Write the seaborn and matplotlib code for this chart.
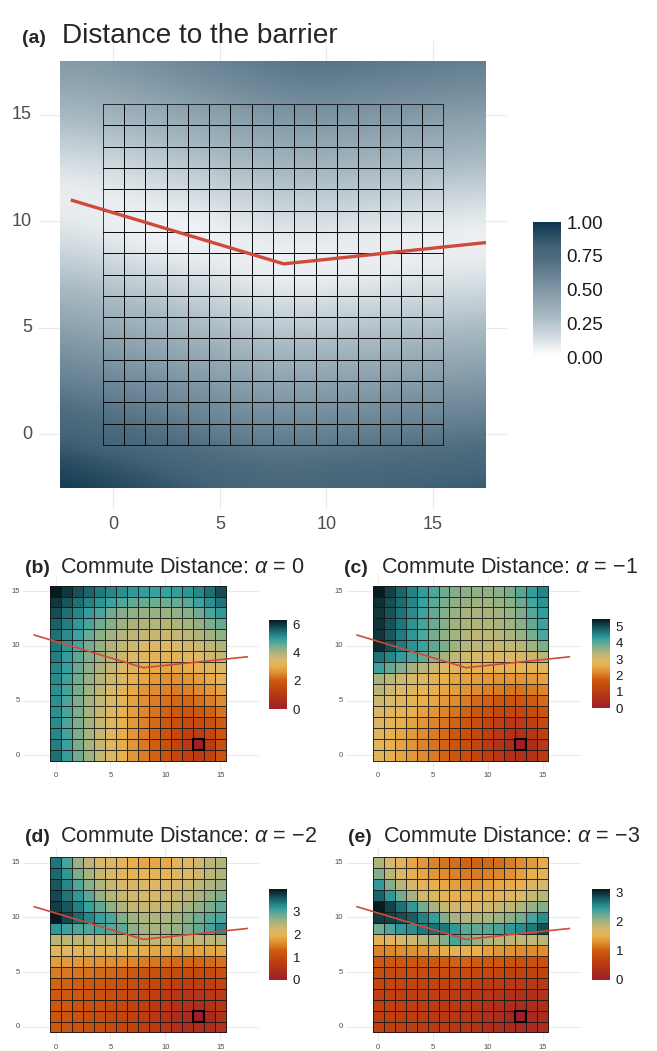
import numpy as np
import pandas as pd
import matplotlib
matplotlib.use("Agg")
import matplotlib.pyplot as plt
import matplotlib.transforms as mtransforms
from matplotlib.colors import LinearSegmentedColormap, ListedColormap
from matplotlib.patches import Rectangle
import seaborn as sns

# ---------------------------------------------------------------
# Data
# ---------------------------------------------------------------
cells = list(range(16))              # cell centres 0..15 on both axes
barrier_x = [-2, 8, 17.5]
barrier_y = [11, 8, 9]
target_cell = (13, 1)

# panel (a): distance to the barrier, sampled every 2 units, rows from y=-2.5 up
field_coords = [-2.5, -0.5, 1.5, 3.5, 5.5, 7.5, 9.5, 11.5, 13.5, 15.5, 17.5]
barrier_dist = [
    [1.000, 0.956, 0.913, 0.868, 0.826, 0.804, 0.811, 0.827, 0.842, 0.859, 0.875],
    [0.854, 0.809, 0.766, 0.722, 0.678, 0.651, 0.659, 0.675, 0.691, 0.707, 0.723],
    [0.707, 0.663, 0.619, 0.575, 0.531, 0.499, 0.507, 0.523, 0.539, 0.555, 0.571],
    [0.561, 0.516, 0.473, 0.428, 0.385, 0.347, 0.354, 0.370, 0.386, 0.402, 0.419],
    [0.414, 0.370, 0.326, 0.282, 0.238, 0.195, 0.202, 0.218, 0.234, 0.250, 0.266],
    [0.268, 0.223, 0.180, 0.135, 0.092, 0.047, 0.050, 0.066, 0.082, 0.098, 0.114],
    [0.121, 0.077, 0.033, 0.011, 0.055, 0.099, 0.103, 0.086, 0.070, 0.054, 0.038],
    [0.054, 0.070, 0.113, 0.158, 0.201, 0.246, 0.254, 0.239, 0.223, 0.207, 0.191],
    [0.195, 0.217, 0.260, 0.305, 0.348, 0.392, 0.406, 0.390, 0.375, 0.359, 0.343],
    [0.347, 0.363, 0.407, 0.451, 0.495, 0.539, 0.559, 0.542, 0.526, 0.511, 0.495],
    [0.499, 0.510, 0.553, 0.598, 0.641, 0.686, 0.711, 0.695, 0.679, 0.663, 0.647],
]

# panels (b)-(e): commute distance to the target cell, rows from y=15 (top) to y=0
commute_alpha0 = [
    [6.30, 6.00, 5.75, 5.55, 5.35, 5.20, 5.10, 5.00, 4.95, 4.90, 4.90, 4.95, 5.05, 5.20, 5.45, 5.80],
    [6.00, 5.70, 5.45, 5.25, 5.05, 4.85, 4.70, 4.60, 4.55, 4.50, 4.50, 4.55, 4.65, 4.85, 5.10, 5.40],
    [5.80, 5.45, 5.20, 4.95, 4.75, 4.50, 4.35, 4.25, 4.20, 4.15, 4.15, 4.20, 4.30, 4.50, 4.75, 5.00],
    [5.60, 5.30, 5.00, 4.75, 4.50, 4.30, 4.10, 4.00, 3.95, 3.90, 3.90, 3.95, 4.05, 4.20, 4.40, 4.60],
    [5.45, 5.15, 4.85, 4.55, 4.30, 4.10, 3.90, 3.80, 3.70, 3.65, 3.65, 3.70, 3.80, 3.95, 4.10, 4.25],
    [5.35, 5.05, 4.75, 4.45, 4.20, 3.95, 3.75, 3.60, 3.50, 3.45, 3.40, 3.45, 3.55, 3.65, 3.80, 3.95],
    [5.30, 4.95, 4.65, 4.35, 4.10, 3.85, 3.60, 3.45, 3.30, 3.20, 3.15, 3.20, 3.30, 3.40, 3.55, 3.70],
    [5.20, 4.90, 4.55, 4.25, 4.00, 3.70, 3.45, 3.25, 3.05, 2.95, 2.90, 2.90, 3.00, 3.10, 3.25, 3.40],
    [5.15, 4.85, 4.50, 4.20, 3.90, 3.60, 3.35, 3.10, 2.90, 2.75, 2.65, 2.65, 2.70, 2.80, 2.95, 3.15],
    [5.10, 4.80, 4.45, 4.10, 3.80, 3.50, 3.25, 2.95, 2.70, 2.55, 2.45, 2.40, 2.45, 2.55, 2.70, 2.85],
    [5.10, 4.75, 4.40, 4.05, 3.75, 3.45, 3.15, 2.85, 2.60, 2.40, 2.25, 2.15, 2.15, 2.25, 2.40, 2.55],
    [5.10, 4.75, 4.40, 4.05, 3.70, 3.40, 3.10, 2.80, 2.50, 2.30, 2.10, 1.95, 1.90, 1.95, 2.10, 2.30],
    [5.15, 4.75, 4.40, 4.05, 3.70, 3.35, 3.05, 2.75, 2.45, 2.20, 1.95, 1.75, 1.60, 1.60, 1.80, 2.05],
    [5.20, 4.80, 4.40, 4.05, 3.70, 3.35, 3.00, 2.70, 2.40, 2.10, 1.85, 1.55, 1.30, 1.25, 1.50, 1.85],
    [5.30, 4.85, 4.45, 4.05, 3.70, 3.35, 3.00, 2.70, 2.35, 2.05, 1.75, 1.40, 1.05, 0.00, 1.10, 1.70],
    [5.45, 4.95, 4.50, 4.10, 3.75, 3.40, 3.05, 2.70, 2.40, 2.10, 1.80, 1.50, 1.30, 1.20, 1.40, 1.80],
]

commute_alpha1 = [
    [5.45, 5.10, 4.80, 4.55, 4.30, 4.10, 3.90, 3.75, 3.70, 3.65, 3.65, 3.70, 3.85, 4.05, 4.30, 4.55],
    [5.25, 5.00, 4.75, 4.50, 4.25, 4.00, 3.80, 3.65, 3.60, 3.55, 3.55, 3.60, 3.70, 3.90, 4.15, 4.40],
    [5.20, 4.95, 4.70, 4.45, 4.20, 3.95, 3.75, 3.60, 3.50, 3.45, 3.45, 3.50, 3.60, 3.80, 4.05, 4.30],
    [5.20, 4.95, 4.65, 4.40, 4.15, 3.90, 3.70, 3.55, 3.45, 3.40, 3.40, 3.45, 3.55, 3.70, 3.95, 4.20],
    [5.20, 4.90, 4.60, 4.35, 4.10, 3.85, 3.65, 3.50, 3.40, 3.30, 3.30, 3.35, 3.45, 3.60, 3.85, 4.10],
    [5.30, 5.00, 4.60, 4.40, 4.20, 4.00, 3.80, 3.55, 3.40, 3.30, 3.25, 3.20, 3.25, 3.35, 3.55, 3.80],
    [4.70, 4.50, 4.30, 4.15, 3.95, 3.70, 3.50, 3.25, 3.10, 3.00, 2.95, 2.95, 3.00, 3.05, 3.15, 3.30],
    [4.20, 3.95, 3.75, 3.50, 3.35, 3.15, 3.00, 2.85, 2.75, 2.70, 2.65, 2.65, 2.65, 2.70, 2.75, 2.85],
    [3.50, 3.35, 3.15, 3.00, 2.85, 2.70, 2.60, 2.50, 2.45, 2.40, 2.35, 2.30, 2.30, 2.30, 2.35, 2.45],
    [3.35, 3.15, 3.00, 2.85, 2.70, 2.60, 2.50, 2.40, 2.30, 2.20, 2.10, 2.05, 2.00, 2.00, 2.05, 2.15],
    [3.15, 3.00, 2.85, 2.70, 2.60, 2.50, 2.35, 2.20, 2.05, 1.90, 1.80, 1.70, 1.65, 1.65, 1.75, 1.90],
    [3.00, 2.85, 2.70, 2.60, 2.45, 2.30, 2.15, 2.00, 1.85, 1.65, 1.50, 1.35, 1.30, 1.30, 1.40, 1.60],
    [2.90, 2.75, 2.60, 2.45, 2.30, 2.15, 2.00, 1.85, 1.65, 1.45, 1.25, 1.10, 0.95, 0.95, 1.10, 1.35],
    [2.85, 2.65, 2.50, 2.35, 2.20, 2.05, 1.90, 1.70, 1.50, 1.30, 1.10, 0.90, 0.70, 0.65, 0.80, 1.10],
    [2.80, 2.60, 2.45, 2.30, 2.15, 2.00, 1.85, 1.65, 1.45, 1.25, 1.00, 0.75, 0.50, 0.00, 0.55, 0.90],
    [2.85, 2.65, 2.50, 2.35, 2.20, 2.05, 1.85, 1.65, 1.45, 1.25, 1.05, 0.85, 0.70, 0.65, 0.75, 1.00],
]

commute_alpha2 = [
    [3.43, 3.04, 2.65, 2.42, 2.22, 2.10, 2.03, 1.91, 1.83, 1.83, 1.87, 2.03, 2.15, 2.26, 2.42, 2.50],
    [3.50, 3.20, 2.80, 2.55, 2.35, 2.20, 2.10, 2.03, 2.00, 2.00, 2.03, 2.10, 2.20, 2.25, 2.40, 2.50],
    [3.60, 3.30, 3.00, 2.73, 2.50, 2.35, 2.22, 2.18, 2.15, 2.15, 2.18, 2.22, 2.30, 2.42, 2.50, 2.60],
    [3.70, 3.43, 3.20, 2.95, 2.65, 2.45, 2.35, 2.25, 2.22, 2.22, 2.25, 2.35, 2.42, 2.55, 2.65, 2.78],
    [3.78, 3.60, 3.35, 3.12, 2.92, 2.70, 2.50, 2.38, 2.34, 2.34, 2.38, 2.45, 2.58, 2.70, 2.80, 2.92],
    [4.00, 3.70, 3.50, 3.30, 3.12, 3.00, 2.77, 2.60, 2.50, 2.50, 2.53, 2.60, 2.73, 2.85, 2.96, 3.04],
    [3.20, 3.08, 3.00, 3.00, 3.05, 2.98, 2.95, 2.70, 2.58, 2.55, 2.58, 2.65, 2.75, 2.90, 3.05, 3.30],
    [2.45, 2.42, 2.40, 2.38, 2.36, 2.36, 2.40, 2.45, 2.45, 2.40, 2.38, 2.36, 2.36, 2.38, 2.40, 2.45],
    [2.10, 2.10, 2.08, 2.05, 2.03, 2.00, 1.98, 1.92, 1.88, 1.85, 1.83, 1.80, 1.80, 1.80, 1.82, 1.85],
    [1.75, 1.74, 1.72, 1.70, 1.68, 1.65, 1.62, 1.58, 1.52, 1.48, 1.43, 1.40, 1.38, 1.38, 1.40, 1.45],
    [1.50, 1.48, 1.46, 1.44, 1.40, 1.36, 1.32, 1.27, 1.20, 1.14, 1.08, 1.03, 1.00, 1.00, 1.02, 1.08],
    [1.35, 1.33, 1.30, 1.27, 1.23, 1.18, 1.13, 1.07, 1.00, 0.93, 0.87, 0.82, 0.78, 0.78, 0.82, 0.88],
    [1.28, 1.26, 1.22, 1.18, 1.13, 1.08, 1.02, 0.95, 0.88, 0.80, 0.72, 0.65, 0.60, 0.60, 0.65, 0.72],
    [1.24, 1.22, 1.18, 1.13, 1.08, 1.02, 0.96, 0.88, 0.80, 0.72, 0.62, 0.52, 0.45, 0.43, 0.50, 0.60],
    [1.22, 1.20, 1.16, 1.11, 1.05, 0.99, 0.92, 0.85, 0.76, 0.66, 0.55, 0.43, 0.30, 0.00, 0.32, 0.50],
    [1.24, 1.21, 1.17, 1.12, 1.06, 1.00, 0.93, 0.86, 0.77, 0.68, 0.58, 0.48, 0.40, 0.38, 0.42, 0.52],
]

commute_alpha3 = [
    [1.95, 1.73, 1.58, 1.42, 1.32, 1.20, 1.13, 1.10, 1.04, 1.04, 1.07, 1.10, 1.17, 1.26, 1.35, 1.45],
    [2.14, 1.89, 1.73, 1.54, 1.42, 1.32, 1.26, 1.20, 1.17, 1.17, 1.20, 1.23, 1.29, 1.39, 1.48, 1.58],
    [2.46, 2.14, 1.89, 1.73, 1.58, 1.48, 1.42, 1.39, 1.35, 1.35, 1.39, 1.42, 1.45, 1.51, 1.64, 1.73],
    [2.74, 2.46, 2.20, 1.98, 1.76, 1.64, 1.58, 1.51, 1.51, 1.51, 1.54, 1.58, 1.64, 1.70, 1.80, 1.89],
    [3.10, 2.90, 2.68, 2.46, 2.20, 1.98, 1.83, 1.76, 1.73, 1.73, 1.76, 1.80, 1.86, 1.95, 2.05, 2.14],
    [2.93, 2.90, 2.84, 2.77, 2.58, 2.43, 2.14, 1.98, 1.95, 1.95, 1.95, 2.02, 2.11, 2.20, 2.36, 2.52],
    [2.20, 2.33, 2.46, 2.52, 2.65, 2.70, 2.65, 2.46, 2.27, 2.27, 2.30, 2.36, 2.46, 2.52, 2.65, 2.84],
    [1.51, 1.58, 1.70, 1.76, 1.89, 1.98, 2.14, 2.36, 2.20, 2.05, 1.95, 1.89, 1.86, 1.83, 1.83, 1.89],
    [1.20, 1.23, 1.26, 1.29, 1.32, 1.39, 1.45, 1.51, 1.51, 1.48, 1.39, 1.32, 1.29, 1.26, 1.26, 1.26],
    [0.95, 0.95, 0.95, 0.95, 0.98, 0.98, 1.00, 1.04, 1.04, 1.00, 0.98, 0.95, 0.91, 0.88, 0.88, 0.88],
    [0.80, 0.80, 0.80, 0.80, 0.80, 0.80, 0.80, 0.80, 0.79, 0.77, 0.75, 0.72, 0.70, 0.68, 0.68, 0.70],
    [0.72, 0.72, 0.72, 0.71, 0.70, 0.69, 0.68, 0.66, 0.64, 0.61, 0.58, 0.55, 0.52, 0.50, 0.50, 0.52],
    [0.66, 0.66, 0.65, 0.64, 0.63, 0.62, 0.60, 0.58, 0.55, 0.51, 0.47, 0.43, 0.39, 0.37, 0.38, 0.42],
    [0.63, 0.63, 0.62, 0.61, 0.60, 0.58, 0.56, 0.53, 0.50, 0.45, 0.40, 0.34, 0.28, 0.26, 0.29, 0.34],
    [0.62, 0.62, 0.61, 0.60, 0.58, 0.56, 0.54, 0.51, 0.47, 0.42, 0.35, 0.28, 0.20, 0.00, 0.21, 0.30],
    [0.63, 0.62, 0.61, 0.60, 0.58, 0.56, 0.54, 0.51, 0.47, 0.42, 0.36, 0.30, 0.25, 0.23, 0.26, 0.31],
]

panel_tags = ["(b)", "(c)", "(d)", "(e)"]
alpha_labels = ["0", "\u22121", "\u22122", "\u22123"]
cbar_ticks = [[0, 2, 4, 6], [0, 1, 2, 3, 4, 5], [0, 1, 2, 3], [0, 1, 2, 3]]
axis_ticks = [0, 5, 10, 15]
dist_ticks = [0.0, 0.25, 0.5, 0.75, 1.0]

# ---------------------------------------------------------------
# Styling
# ---------------------------------------------------------------
sns.set_theme(style="white")
plt.rcParams["font.family"] = ["Liberation Sans", "DejaVu Sans"]
plt.rcParams["mathtext.fontset"] = "custom"
plt.rcParams["mathtext.it"] = "Liberation Sans:italic"
plt.rcParams["mathtext.rm"] = "Liberation Sans"

GRID = "#ebebeb"
TICK = "#4d4d4d"
RED = "#d04a3a"

dist_cmap = LinearSegmentedColormap.from_list(
    "dist", [(0.0, "#ffffff"), (0.05, "#f4f6f7"), (0.15, "#d3dce1"), (0.30, "#a9bac3"),
             (0.45, "#8aa0ac"), (0.60, "#6a8596"), (0.72, "#4f6d7f"), (0.82, "#426377"),
             (0.90, "#2b4e63"), (1.0, "#0d3550")])
commute_cmap = LinearSegmentedColormap.from_list(
    "commute", [(0.00, "#9e1f2b"), (0.12, "#b0301a"), (0.22, "#c1430e"), (0.32, "#cd5a10"),
                (0.40, "#dd8a2e"), (0.48, "#e8b04e"), (0.55, "#d9b86a"), (0.63, "#aeb47d"),
                (0.70, "#7dad8d"), (0.78, "#36a19f"), (0.86, "#1f7479"), (0.93, "#14454b"),
                (1.00, "#071a1f")])
clear_cmap = ListedColormap([(1, 1, 1, 0)])


def shift_mesh(ax, z):
    # seaborn puts cell i on [i, i+1]; centre it on i instead
    mesh = ax.collections[-1]
    mesh.set_transform(mtransforms.Affine2D().translate(-0.5, -0.5) + ax.transData)
    mesh.set_zorder(z)
    return mesh


def style_axis(ax, xlim, ylim, size, pad):
    ax.set_xlim(*xlim)
    ax.set_ylim(*ylim)
    ax.set_xticks(axis_ticks)
    ax.set_yticks(axis_ticks)
    ax.set_xticklabels([str(t) for t in axis_ticks])
    ax.set_yticklabels([str(t) for t in axis_ticks], rotation=0)
    ax.tick_params(length=0, labelsize=size, labelcolor=TICK, pad=pad)
    ax.set_xlabel("")
    ax.set_ylabel("")
    ax.grid(True, color=GRID, lw=0.8, zorder=0)
    ax.set_axisbelow(True)
    for s in ax.spines.values():
        s.set_visible(False)


def style_cbar(cax, ticks, labels, size, tlen):
    cax.set_yticks(ticks)
    cax.set_yticklabels(labels)
    cax.tick_params(axis="y", direction="in", color="white", length=tlen, width=0.8,
                    left=True, right=True, labelsize=size, labelcolor="#1a1a1a", pad=4)
    for s in cax.spines.values():
        s.set_visible(False)


fig = plt.figure(figsize=(6.57, 10.51), dpi=100)

# ---------------------------------------------------------------
# Panel (a): distance to the barrier
# ---------------------------------------------------------------
ax_a = fig.add_axes([0.0591, 0.5158, 0.713, 0.446])
cax_a = fig.add_axes([0.8113, 0.6603, 0.0426, 0.1284])

im = ax_a.imshow(np.array(barrier_dist), origin="lower", cmap=dist_cmap, vmin=0, vmax=1,
                 extent=(field_coords[0] - 1, field_coords[-1] + 1,
                         field_coords[0] - 1, field_coords[-1] + 1),
                 interpolation="bicubic", aspect="auto", zorder=1)
im.set_clip_path(Rectangle((field_coords[0], field_coords[0]),
                           field_coords[-1] - field_coords[0],
                           field_coords[-1] - field_coords[0],
                           transform=ax_a.transData))

grid_frame = pd.DataFrame(0.0, index=cells, columns=cells)
sns.heatmap(grid_frame, ax=ax_a, cmap=clear_cmap, vmin=0, vmax=1, cbar=False,
            linewidths=0.4, linecolor=(0, 0, 0, 0.75))
shift_mesh(ax_a, 2)
ax_a.plot(barrier_x, barrier_y, color=RED, lw=2.4, solid_capstyle="butt", zorder=3)
style_axis(ax_a, (-3.5, 18.5), (-3.5, 18.5), 13, 5)

cb = fig.colorbar(im, cax=cax_a)
cb.outline.set_visible(False)
style_cbar(cax_a, dist_ticks, [f"{t:.2f}" for t in dist_ticks], 13.5, 5)

fig.text(22 / 657, 1 - 43 / 1051, "(a)", fontsize=14, fontweight="bold", va="baseline")
fig.text(62 / 657, 1 - 43 / 1051, "Distance to the barrier", fontsize=20.2, va="baseline")

# ---------------------------------------------------------------
# Panels (b)-(e): commute distance
# ---------------------------------------------------------------
panels = [commute_alpha0, commute_alpha1, commute_alpha2, commute_alpha3]
axes_pos = [[0.0347, 0.2678, 0.359, 0.1834], [0.526, 0.2678, 0.358, 0.1834],
            [0.0347, 0.0093, 0.359, 0.1834], [0.526, 0.0093, 0.358, 0.1834]]
cbar_pos = [[0.4099, 0.3251, 0.0274, 0.0850], [0.9011, 0.3261, 0.0274, 0.0847],
            [0.4099, 0.0676, 0.0274, 0.0863], [0.9011, 0.0676, 0.0274, 0.0863]]
title_pos = [(25, 60, 573), (344, 381, 573), (25, 60, 842), (348, 383, 842)]

for i, values in enumerate(panels):
    ax = fig.add_axes(axes_pos[i])
    cax = fig.add_axes(cbar_pos[i])
    frame = pd.DataFrame(values[::-1], index=cells, columns=cells)   # row 0 -> y = 0
    vmax = frame.values.max()
    sns.heatmap(frame, ax=ax, cmap=commute_cmap, vmin=0, vmax=vmax, cbar_ax=cax,
                linewidths=0.6, linecolor=(0.08, 0.08, 0.08, 0.85))
    shift_mesh(ax, 2)
    ax.add_patch(Rectangle((target_cell[0] - 0.5, target_cell[1] - 0.5), 1, 1,
                           fill=False, ec="black", lw=1.5, zorder=4))
    ax.plot(barrier_x, barrier_y, color=RED, lw=1.2, solid_capstyle="butt", zorder=3)
    style_axis(ax, (-2.975, 18.475), (-1.3, 16.3), 5.5, 2)
    ax.collections[0].colorbar.outline.set_visible(False)
    style_cbar(cax, cbar_ticks[i], [str(t) for t in cbar_ticks[i]], 9.5, 3)

    xt, xm, yb = title_pos[i]
    fig.text(xt / 657, 1 - yb / 1051, panel_tags[i], fontsize=14, fontweight="bold",
             va="baseline")
    fig.text(xm / 657, 1 - yb / 1051,
             "Commute Distance: $\\alpha$ = " + alpha_labels[i], fontsize=15.5,
             va="baseline")

fig.savefig("out.png", dpi=100)
